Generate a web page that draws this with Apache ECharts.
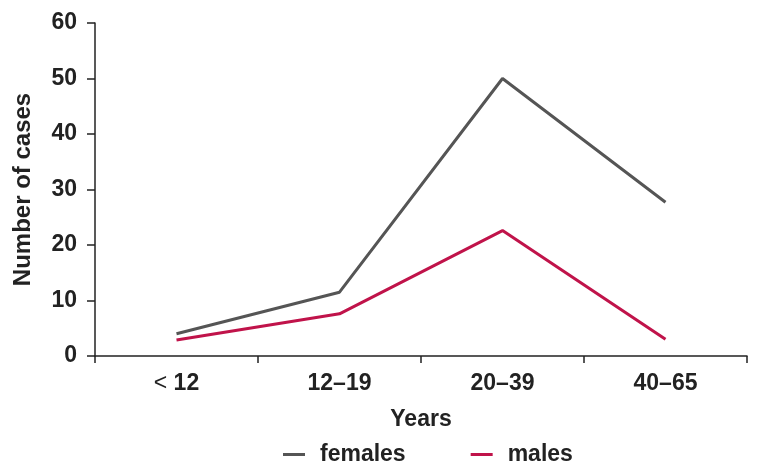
<!DOCTYPE html>
<html>
<head>
<meta charset="utf-8">
<script src="https://cdn.jsdelivr.net/npm/echarts@6/dist/echarts.min.js"></script>
<style>html,body{margin:0;padding:0;background:#fff}#c{width:761px;height:475px}</style>
</head>
<body>
<div id="c"></div>
<script>
var categories = ["< 12", "12–19", "20–39", "40–65"];
var females = [4, 11.5, 50, 27.7];
var males = [2.9, 7.6, 22.6, 3];
var yTicks = [0, 10, 20, 30, 40, 50, 60];

var font = '"Liberation Sans", Arial, Helvetica, sans-serif';
var FS = 23;
var chart = echarts.init(document.getElementById('c'), null, {renderer: 'canvas'});
chart.setOption({
  animation: false,
  backgroundColor: '#fff',
  textStyle: {fontFamily: font},
  grid: {left: 95, right: 14, top: 23, bottom: 119, containLabel: false, outerBoundsMode: 'none'},
  legend: {
    top: 438, left: 278,
    icon: 'rect', itemWidth: 22, itemHeight: 3, itemGap: 65,
    textStyle: {fontFamily: font, fontWeight: 'bold', fontSize: FS, color: '#222', padding: [0,0,0,10]},
    data: ['females', 'males']
  },
  xAxis: {
    type: 'category', data: categories, boundaryGap: true,
    axisLine: {lineStyle: {color: '#222', width: 1.5}},
    axisTick: {show: true, length: 7, lineStyle: {color: '#222', width: 1.5}},
    axisLabel: {
      margin: 16, color: '#222', fontFamily: font, fontSize: FS, fontWeight: 'bold',
      formatter: function (v) {
        if (v.indexOf('<') === 0) return '{t|<} {b|' + v.replace('<', '').trim() + '}';
        return '{b|' + v + '}';
      },
      rich: {
        t: {fontFamily: font, fontSize: FS, fontWeight: 'normal', color: '#222'},
        b: {fontFamily: font, fontSize: FS, fontWeight: 'bold', color: '#222'}
      }
    },
    name: 'Years', nameLocation: 'middle', nameGap: 52,
    nameTextStyle: {fontFamily: font, fontSize: FS, fontWeight: 'bold', color: '#222'}
  },
  yAxis: {
    type: 'value', min: yTicks[0], max: yTicks[yTicks.length - 1], interval: 10,
    splitLine: {show: false},
    axisLine: {show: true, lineStyle: {color: '#222', width: 1.5}},
    axisTick: {show: true, length: 8, lineStyle: {color: '#222', width: 1.5}},
    axisLabel: {margin: 18, color: '#222', fontFamily: font, fontSize: FS, fontWeight: 'bold'},
    name: 'Number of cases', nameLocation: 'middle', nameGap: 60, nameRotate: 90,
    nameTextStyle: {fontFamily: font, fontSize: 24, fontWeight: 'bold', color: '#222'}
  },
  series: [
    {name: 'females', type: 'line', data: females, symbol: 'none',
     lineStyle: {color: '#555555', width: 3}, itemStyle: {color: '#555555'}},
    {name: 'males', type: 'line', data: males, symbol: 'none',
     lineStyle: {color: '#c0134a', width: 3}, itemStyle: {color: '#c0134a'}}
  ]
});
</script>
</body>
</html>
